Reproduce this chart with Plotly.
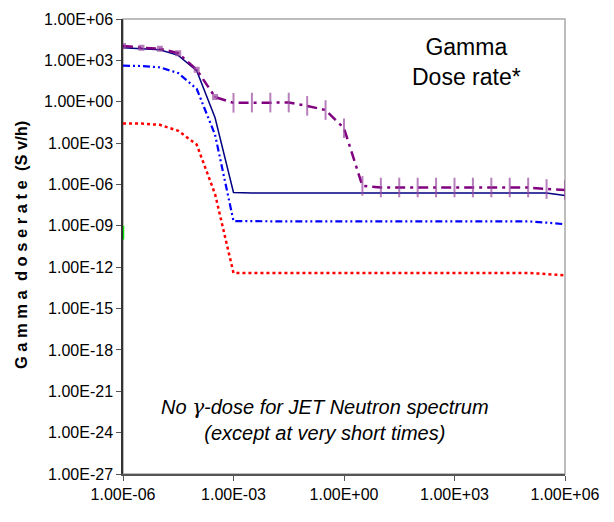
import plotly.graph_objects as go

# Time points (half-decade steps)
time_h = [1e-6, 3.16e-6, 1e-5, 3.16e-5, 1e-4, 3.16e-4, 1e-3, 3.16e-3, 1e-2, 3.16e-2,
          1e-1, 3.16e-1, 1e0, 3.16e0, 1e1, 3.16e1, 1e2, 3.16e2, 1e3, 3.16e3,
          1e4, 3.16e4, 1e5, 3.16e5, 1e6]

purple_y = [1.12e4, 8.3e3, 7.1e3, 3.3e3, 2.1e2, 2.2, 0.83, 0.87, 0.87, 0.87,
            0.5, 0.25, 1.2e-2, 7.9e-7, 6.0e-7, 6.0e-7, 6.0e-7, 6.0e-7, 6.0e-7, 6.0e-7,
            6.0e-7, 6.0e-7, 6.0e-7, 4.7e-7, 4.0e-7]
navy_y = [8.3e3, 7.1e3, 5.8e3, 2.3e3, 1.8e2, 6.9e-2, 2.6e-7, 2.4e-7, 2.4e-7, 2.4e-7,
          2.4e-7, 2.4e-7, 2.4e-7, 2.4e-7, 2.4e-7, 2.4e-7, 2.4e-7, 2.4e-7, 2.4e-7, 2.4e-7,
          2.4e-7, 2.4e-7, 2.4e-7, 2.4e-7, 1.55e-7]
blue_y = [4.1e2, 3.9e2, 3.1e2, 1.2e2, 8.7, 4.0e-3, 2.2e-9, 2.1e-9, 2.1e-9, 2.1e-9,
          2.1e-9, 2.1e-9, 2.1e-9, 2.1e-9, 2.1e-9, 2.1e-9, 2.1e-9, 2.1e-9, 2.1e-9, 2.1e-9,
          2.1e-9, 2.1e-9, 2.1e-9, 1.7e-9, 1.3e-9]
red_y = [2.6e-2, 2.6e-2, 2.1e-2, 7.8e-3, 7.8e-4, 2.0e-7, 3.8e-13, 3.8e-13, 3.8e-13, 3.8e-13,
         3.8e-13, 3.8e-13, 3.8e-13, 3.8e-13, 3.8e-13, 3.8e-13, 3.8e-13, 3.8e-13, 3.8e-13, 3.8e-13,
         3.8e-13, 3.8e-13, 3.8e-13, 3.2e-13, 2.5e-13]
green_x = [1e-6, 1e-6]
green_y = [1.0e-9, 1.0e-10]

x_tickvals = [1e-6, 1e-3, 1e0, 1e3, 1e6]
x_ticktext = ["1.00E-06", "1.00E-03", "1.00E+00", "1.00E+03", "1.00E+06"]
y_tickvals = [1e6, 1e3, 1e0, 1e-3, 1e-6, 1e-9, 1e-12, 1e-15, 1e-18, 1e-21, 1e-24, 1e-27]
y_ticktext = ["1.00E+06", "1.00E+03", "1.00E+00", "1.00E-03", "1.00E-06", "1.00E-09",
              "1.00E-12", "1.00E-15", "1.00E-18", "1.00E-21", "1.00E-24", "1.00E-27"]

# purple bar markers only appear from 1e-3 onward
purple_marker_size = [14 if t >= 1e-3 else 4 for t in time_h]
purple_marker_sym = ["line-ns" if t >= 1e-3 else "square" for t in time_h]

fig = go.Figure()

fig.add_trace(go.Scatter(x=time_h, y=red_y, mode="lines",
                         line=dict(color="#ff0000", width=2.5, dash="3px,3px")))
fig.add_trace(go.Scatter(x=time_h, y=blue_y, mode="lines",
                         line=dict(color="#0000ff", width=2.2, dash="7px,3px,2px,3px,2px,3px")))
fig.add_trace(go.Scatter(x=time_h, y=navy_y, mode="lines",
                         line=dict(color="#000080", width=1.5)))
fig.add_trace(go.Scatter(x=time_h, y=purple_y, mode="lines+markers",
                         line=dict(color="#800080", width=2.5, dash="10px,5px,3px,5px"),
                         marker=dict(symbol=purple_marker_sym, size=purple_marker_size,
                                     color="#800080",
                                     line=dict(color="#9a4aa0", width=2))))
fig.add_trace(go.Scatter(x=green_x, y=green_y, mode="lines", cliponaxis=False,
                         line=dict(color="#00e000", width=2.5)))

axis_font = dict(family="Liberation Sans, Arial, sans-serif", size=16, color="#000000")

fig.update_xaxes(type="log", range=[-6, 6], tickvals=x_tickvals, ticktext=x_ticktext,
                 showgrid=False, zeroline=False, showline=True, linecolor="#555555",
                 linewidth=1.5, ticks="outside", ticklen=5, tickcolor="#555555",
                 tickfont=axis_font, ticklabeloverflow="allow")
fig.update_yaxes(type="log", range=[-27, 6], tickvals=y_tickvals, ticktext=y_ticktext,
                 showgrid=False, zeroline=False, showline=True, linecolor="#333333",
                 linewidth=1.5, ticks="outside", ticklen=5, tickcolor="#555555",
                 tickfont=axis_font, ticklabeloverflow="allow")

fig.add_shape(type="rect", xref="paper", yref="paper", x0=0, y0=0, x1=1, y1=1,
              line=dict(color="#a8a8a8", width=1.5), layer="below")

fig.add_annotation(xref="paper", yref="paper", x=-0.231, y=0.505,
                   xanchor="center", yanchor="middle",
                   text="<b>G a m m a  d o s e r a t e  (S v/h)</b>", textangle=-90,
                   showarrow=False, font=dict(family="Liberation Sans, Arial, sans-serif",
                                              size=16.5, color="#000000"))
fig.add_annotation(xref="paper", yref="paper", x=0.778, y=0.905,
                   xanchor="center", yanchor="middle",
                   text="Gamma<br>Dose rate*", showarrow=False,
                   font=dict(family="Liberation Sans, Arial, sans-serif", size=23, color="#000000"))
fig.add_annotation(xref="paper", yref="paper", x=0.458, y=0.119,
                   xanchor="center", yanchor="middle",
                   text="<i>No <span style=\"font-family:'DejaVu Serif'\">γ</span>-dose for JET Neutron spectrum<br>(except at very short times)</i>",
                   showarrow=False,
                   font=dict(family="Liberation Sans, Arial, sans-serif", size=20, color="#000000"))

fig.update_layout(width=614, height=522, showlegend=False,
                  margin=dict(l=115, r=57, t=3, b=56),
                  paper_bgcolor="white", plot_bgcolor="white")

fig.write_html("out.html")
